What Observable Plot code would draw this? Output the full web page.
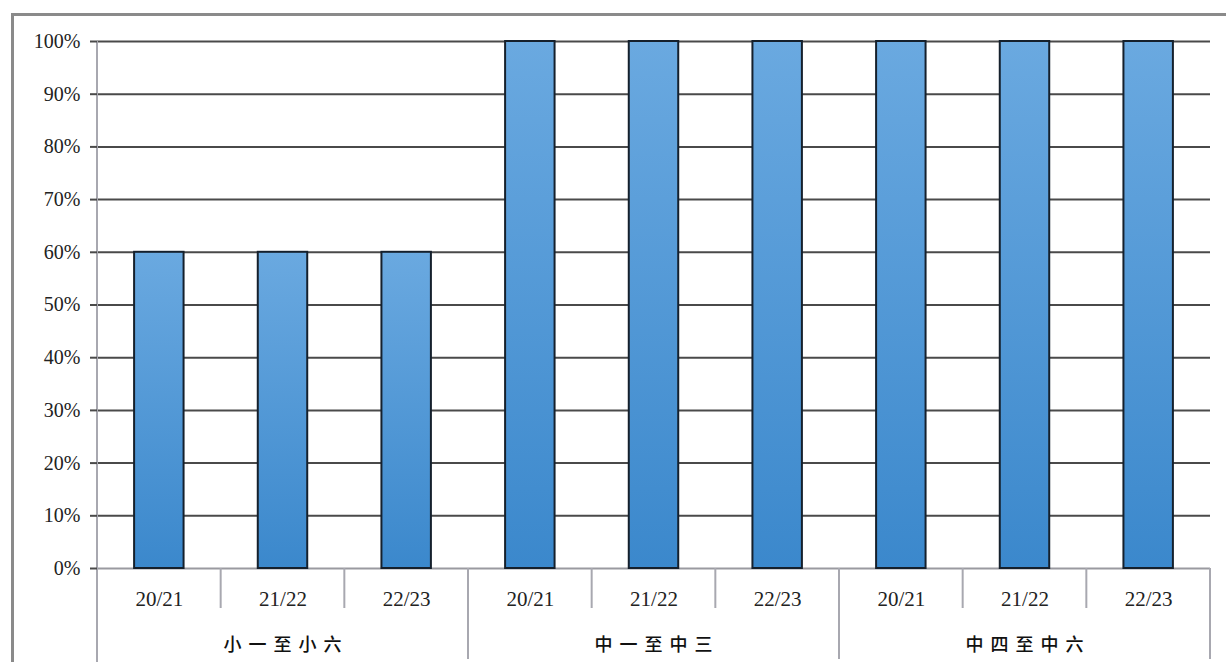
<!DOCTYPE html>
<html><head><meta charset="utf-8">
<script src="https://cdn.jsdelivr.net/npm/d3@7"></script>
<script src="https://cdn.jsdelivr.net/npm/@observablehq/plot@0.6"></script>
<style>
html,body{margin:0;padding:0;background:#fff;}
#wrap{position:relative;width:1226px;height:662px;overflow:hidden;}
#frame{position:absolute;left:11px;top:13px;width:1230px;height:700px;border-left:3px solid #8a8a8a;border-top:3px solid #8a8a8a;box-sizing:border-box;}
#chart{position:absolute;left:0;top:0;}
g[font-family*="CJK"] text{letter-spacing:7px;}
</style></head>
<body><div id="wrap"><div id="frame"></div><div id="chart"></div></div>
<script>
const groups = ["小一至小六", "中一至中三", "中四至中六"];
const years = ["20/21", "21/22", "22/23"];
const values = [
  [0.6, 0.6, 0.6],
  [1.0, 1.0, 1.0],
  [1.0, 1.0, 1.0]
];
const yTicks = [0, 0.1, 0.2, 0.3, 0.4, 0.5, 0.6, 0.7, 0.8, 0.9, 1.0];

const data = [];
groups.forEach((g, gi) => years.forEach((yr, yi) => data.push({key: g + "|" + yr, group: g, year: yr, value: values[gi][yi]})));
const keys = data.map(d => d.key);
const groupMid = groups.map(g => g + "|" + years[1]);

const serif = "'Liberation Serif','DejaVu Serif',serif";

function defs() {
  const ns = "http://www.w3.org/2000/svg";
  const g = document.createElementNS(ns, "defs");
  g.innerHTML = `<linearGradient id="barGrad" x1="0" y1="0" x2="0" y2="1">
    <stop offset="0" stop-color="#6aa9e0"/><stop offset="1" stop-color="#3b88cc"/></linearGradient>`;
  return g;
}

function tableLines(index, scales, values, dim) {
  const x = scales.x, y = scales.y;
  const step = x(keys[1]) - x(keys[0]);
  const bw = x.bandwidth ? x.bandwidth() : step * 0.4;
  const half = (step - bw) / 2;
  const y0 = y(0);
  const ns = "http://www.w3.org/2000/svg";
  const g = document.createElementNS(ns, "g");
  const left = x(keys[0]) - half;
  const add = (x1, y1, x2, y2, c, w) => {
    const l = document.createElementNS(ns, "line");
    l.setAttribute("x1", x1); l.setAttribute("y1", y1);
    l.setAttribute("x2", x2); l.setAttribute("y2", y2);
    l.setAttribute("stroke", c); l.setAttribute("stroke-width", w);
    g.appendChild(l);
  };
  add(left, y(1), left, dim.height, "#a8a8b0", 2);
  keys.forEach((k, i) => {
    const xr = x(k) + bw + half;
    const isGroupEnd = (i % 3) === 2;
    add(xr, y0, xr, isGroupEnd ? dim.height - 3 : y0 + 40, "#a8a8b0", 2);
  });
  return g;
}

const plot = Plot.plot({
  width: 1226,
  height: 662,
  marginLeft: 97,
  marginRight: 16,
  marginTop: 41,
  marginBottom: 94,
  style: {background: "transparent", fontFamily: serif},
  x: {domain: keys, paddingInner: 0.6, paddingOuter: 0.3, round: false, axis: null},
  y: {domain: [0, 1], axis: null},
  marks: [
    defs,
    Plot.ruleY(yTicks.filter(t => t > 0), {stroke: "#4a4a4a", strokeWidth: 2}),
    Plot.ruleY([0], {stroke: "#9a9aa0", strokeWidth: 2}),
    Plot.barY(data, {x: "key", y: "value", fill: "url(#barGrad)", stroke: "#15202c", strokeWidth: 2}),
    tableLines,
    Plot.axisY({ticks: yTicks, label: null, tickFormat: d => Math.round(d * 100) + "%", tickSize: 7, stroke: "#4a4a4a", strokeWidth: 2, tickPadding: 10, fontSize: 20, fill: "#222", fontFamily: serif}),
    Plot.text(keys, {x: d => d, frameAnchor: "bottom", dy: 37, text: d => d.split("|")[1], fontSize: 21, fill: "#222", fontFamily: serif}),
    Plot.text(groupMid, {x: d => d, frameAnchor: "bottom", dy: 82, dx: 3, text: d => d.split("|")[0], fontSize: 18, fontWeight: 500, fill: "#111", fontFamily: "'Noto Sans CJK TC',sans-serif"})
  ]
});
document.getElementById("chart").appendChild(plot);
</script>
</body></html>
